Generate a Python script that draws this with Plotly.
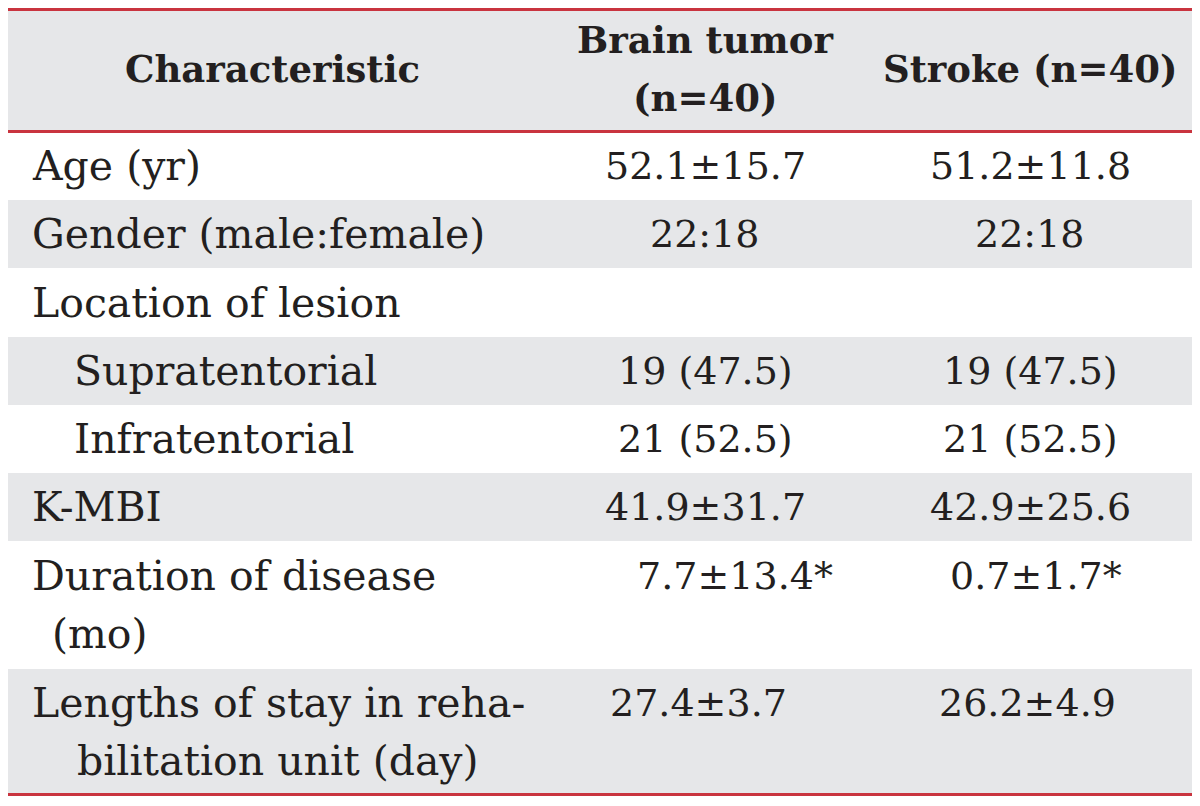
import plotly.graph_objects as go

# ---- data ----
header = ["Characteristic", "Brain tumor<br>(n=40)", "Stroke (n=40)"]
characteristics = [
    "Age (yr)",
    "Gender (male:female)",
    "Location of lesion",
    "Supratentorial",
    "Infratentorial",
    "K-MBI",
    "Duration of disease<br>(mo)",
    "Lengths of stay in reha-<br>bilitation unit (day)",
]
brain_tumor = ["52.1±15.7", "22:18", "", "19 (47.5)", "21 (52.5)", "41.9±31.7", "7.7±13.4*", "27.4±3.7"]
stroke = ["51.2±11.8", "22:18", "", "19 (47.5)", "21 (52.5)", "42.9±25.6", "0.7±1.7*", "26.2±4.9"]

# ---- layout / style ----
W, H = 1200, 806
PAGE_OFF = 8  # default page margin around the plot div
X0, X1 = 3, 1195
header_top, header_bot = 9, 132
row_edges = [132, 200, 268, 337, 405, 473, 541, 669, 794]
shaded = [False, True, False, True, False, True, False, True]
indent = [0, 0, 0, 1, 1, 0, 0, 0]
cont_indent = [0, 0, 0, 0, 0, 0, 20, 45]
GRAY = "#e6e7e9"
RED = "#c9343f"
TXT = "#231f20"
BODY_FONT = "DejaVu Serif"
HEAD_FONT = "DejaVu Serif"
body_size = 41
val_size = 38
head_size = 37
line_gap = 58
col2_x, col3_x = 705, 1030
# per-row horizontal placement of the value columns (anchor, x2, x3)
val_place = {6: ("center", 735, 1036), 7: ("left", 608, 937)}

fig = go.Figure()
shapes = []
annotations = []

shapes.append(dict(type="rect", x0=X0, x1=X1, y0=header_top, y1=header_bot,
                   fillcolor=GRAY, line_width=0, layer="below"))
for i, sh in enumerate(shaded):
    if sh:
        shapes.append(dict(type="rect", x0=X0, x1=X1, y0=row_edges[i], y1=row_edges[i + 1],
                           fillcolor=GRAY, line_width=0, layer="below"))
for yy in (9.5, 131.5, 794.5):
    shapes.append(dict(type="line", x0=X0, x1=X1, y0=yy, y1=yy, line=dict(color=RED, width=3)))


def add_text(x, y, text, size, family, anchor="center", bold=False):
    if bold:
        text = "<b>" + text + "</b>"
    annotations.append(dict(x=x, y=y, xref="x", yref="y", text=text, showarrow=False,
                            xanchor=anchor, yanchor="middle",
                            font=dict(family=family, size=size, color=TXT)))


# header
hmid = 69
add_text(272, hmid, header[0], head_size, HEAD_FONT, bold=True)
hl = header[1].split("<br>")
add_text(col2_x, hmid - line_gap / 2, hl[0], head_size, HEAD_FONT, bold=True)
add_text(col2_x, hmid + line_gap / 2, hl[1], head_size, HEAD_FONT, bold=True)
add_text(col3_x, hmid, header[2], head_size, HEAD_FONT, bold=True)

# body
for i, lab in enumerate(characteristics):
    top, bot = row_edges[i], row_edges[i + 1]
    lines = lab.split("<br>")
    n = len(lines)
    mid = (top + bot) / 2
    first_y = mid - (n - 1) * line_gap / 2
    xl = 30 + 42 * indent[i]
    for k, ln in enumerate(lines):
        add_text(xl + (cont_indent[i] if k > 0 else 0), first_y + k * line_gap, ln,
                 body_size, BODY_FONT, anchor="left")
    anchor, x2, x3 = val_place.get(i, ("center", col2_x, col3_x))
    if brain_tumor[i]:
        add_text(x2, first_y, brain_tumor[i], val_size, BODY_FONT, anchor=anchor)
    if stroke[i]:
        add_text(x3, first_y, stroke[i], val_size, BODY_FONT, anchor=anchor)

fig.update_layout(
    width=W - PAGE_OFF, height=H - PAGE_OFF,
    margin=dict(l=0, r=0, t=0, b=0),
    paper_bgcolor="white", plot_bgcolor="white",
    xaxis=dict(range=[PAGE_OFF, W], visible=False, fixedrange=True),
    yaxis=dict(range=[H, PAGE_OFF], visible=False, fixedrange=True),
    shapes=shapes, annotations=annotations, showlegend=False,
)
fig.write_html("out.html")
